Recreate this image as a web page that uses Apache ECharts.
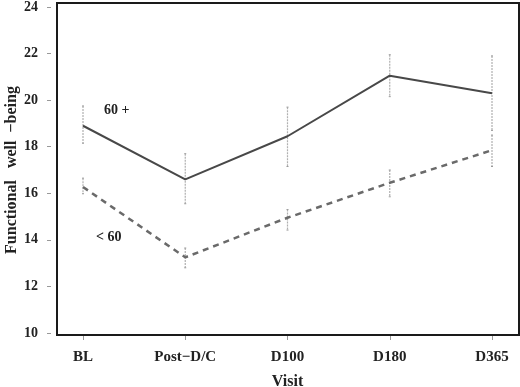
<!DOCTYPE html>
<html>
<head>
<meta charset="utf-8">
<script src="https://cdn.jsdelivr.net/npm/echarts@6/dist/echarts.min.js"></script>
<style>
  html, body { margin: 0; padding: 0; background: #fff; }
  #chart { width: 520px; height: 387px; }
</style>
</head>
<body>
<div id="chart"></div>
<script>
var visits = ['BL', 'Post\u2212D/C', 'D100', 'D180', 'D365'];
var yTicks = [10, 12, 14, 16, 18, 20, 22, 24];

// 60+ group
var oldMean = [18.9, 16.6, 18.45, 21.05, 20.3];
var oldLow = [18.15, 15.55, 17.15, 20.15, 18.7];
var oldHigh = [19.75, 17.7, 19.7, 21.95, 21.9];

// < 60 group
var youngMean = [16.27, 13.25, 14.95, 16.45, 17.85];
var youngLow = [15.98, 12.8, 14.42, 15.85, 17.15];
var youngHigh = [16.65, 13.65, 15.3, 17.0, 18.5];

var FONT = 'Liberation Serif';

function bars(low, high) {
  var out = [];
  for (var i = 0; i < low.length; i++) {
    out.push([i, low[i], high[i]]);
  }
  return out;
}

function renderBar(params, api) {
  var top = api.coord([api.value(0), api.value(2)]);
  var bot = api.coord([api.value(0), api.value(1)]);
  var st = { stroke: '#9a9a9a', lineWidth: 1 };
  return {
    type: 'group',
    children: [
      { type: 'line', shape: { x1: top[0], y1: top[1], x2: bot[0], y2: bot[1] },
        style: { stroke: '#b0b0b0', lineWidth: 1.2, lineDash: [2, 1] } },
      { type: 'line', shape: { x1: top[0] - 1, y1: top[1], x2: top[0] + 1, y2: top[1] }, style: st },
      { type: 'line', shape: { x1: bot[0] - 1, y1: bot[1], x2: bot[0] + 1, y2: bot[1] }, style: st }
    ]
  };
}

var chart = echarts.init(document.getElementById('chart'));
chart.setOption({
  animation: false,
  backgroundColor: '#fff',
  grid: { left: 83, right: 28, top: 7, bottom: 54, containLabel: false, outerBoundsMode: 'none' },
  xAxis: {
    type: 'category',
    data: visits,
    boundaryGap: false,
    offset: 2,
    axisLine: { show: false },
    axisTick: { show: true, length: 5, alignWithLabel: true, lineStyle: { color: '#999' } },
    axisLabel: { margin: 15, color: '#222', fontFamily: FONT, fontWeight: 'bold', fontSize: 15 },
    name: 'Visit',
    nameLocation: 'middle',
    nameGap: 39,
    nameMoveOverlap: false,
    nameTextStyle: { color: '#222', fontFamily: FONT, fontWeight: 'bold', fontSize: 16 },
    splitLine: { show: false }
  },
  yAxis: {
    type: 'value',
    min: 10,
    max: 24,
    interval: 2,
    offset: 32,
    axisLine: { show: false },
    axisTick: { show: true, length: 4, lineStyle: { color: '#999' } },
    axisLabel: {
      margin: 13, color: '#222', fontFamily: FONT, fontWeight: 'bold', fontSize: 14,
      formatter: function (v) { return yTicks.indexOf(v) >= 0 ? String(v) : ''; }
    },
    splitLine: { show: false },
    name: 'Functional   well  \u2212being',
    nameLocation: 'middle',
    nameGap: 31,
    nameMoveOverlap: false,
    nameTextStyle: { color: '#222', fontFamily: FONT, fontWeight: 'bold', fontSize: 16 }
  },
  graphic: [
    { type: 'rect', z: 100, silent: true,
      shape: { x: 57, y: 3, width: 462, height: 332 },
      style: { fill: 'none', stroke: '#1a1a1a', lineWidth: 2 } },
    { type: 'text', z: 100, left: 104, top: 103,
      style: { text: '60 +', fill: '#222', font: 'bold 14px "Liberation Serif"' } },
    { type: 'text', z: 100, left: 96, top: 230,
      style: { text: '< 60', fill: '#222', font: 'bold 14px "Liberation Serif"' } }
  ],
  series: [
    { type: 'custom', name: '60+ range', renderItem: renderBar, data: bars(oldLow, oldHigh), z: 1 },
    { type: 'custom', name: '<60 range', renderItem: renderBar, data: bars(youngLow, youngHigh), z: 1 },
    {
      type: 'line', name: '60 +', data: oldMean, symbol: 'none', z: 3,
      lineStyle: { color: '#484848', width: 2 }
    },
    {
      type: 'line', name: '< 60', data: youngMean, symbol: 'none', z: 3,
      lineStyle: { color: '#6a6a6a', width: 2.5, type: [6, 5] }
    }
  ]
});
</script>
</body>
</html>
